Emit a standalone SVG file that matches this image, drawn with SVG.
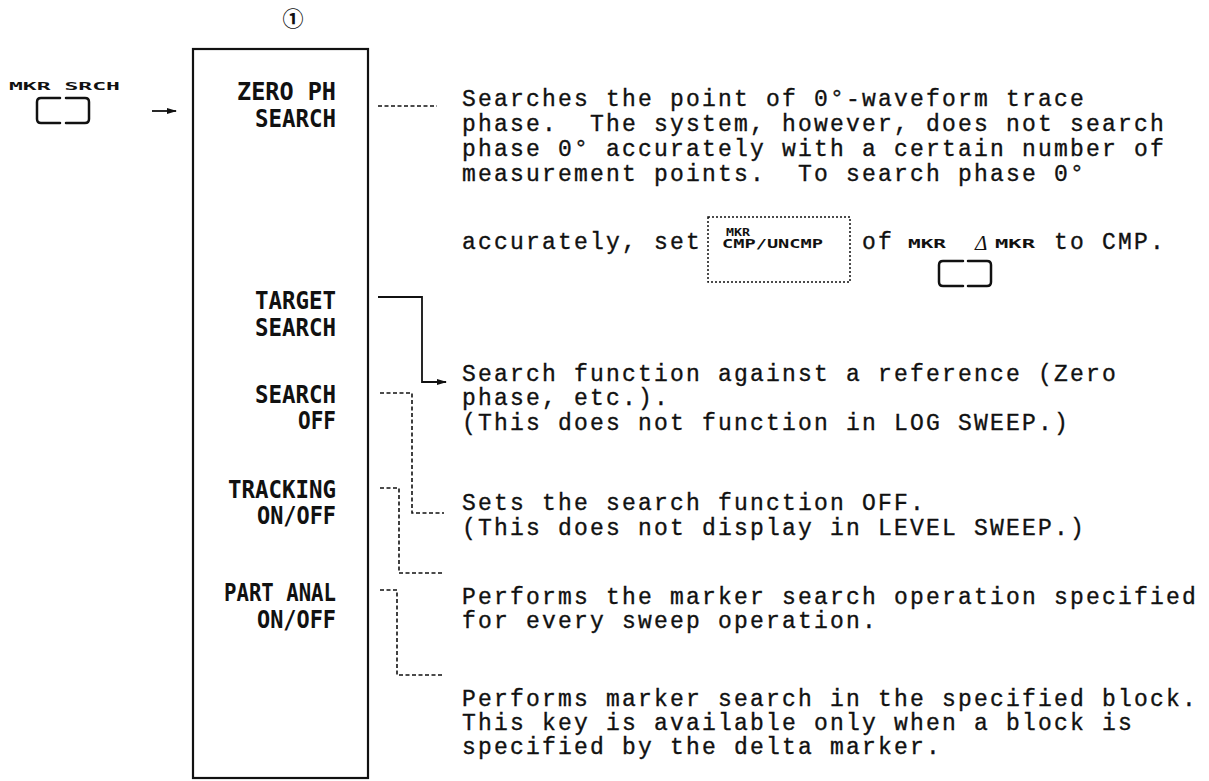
<svg xmlns="http://www.w3.org/2000/svg" width="1209" height="781" viewBox="0 0 1209 781">
<defs>
<style>
.lbl{font-family:"DejaVu Sans Mono","Liberation Mono",monospace;font-weight:bold;font-size:24px;fill:#111}
.txt{font-family:"Liberation Mono","Courier New",monospace;font-size:23px;letter-spacing:2.2px;white-space:pre;fill:#111;stroke:#111;stroke-width:0.35px}
.key{font-family:"DejaVu Sans Mono","Liberation Mono",monospace;font-weight:bold;font-size:11px;fill:#111}
.box{fill:none;stroke:#111;stroke-width:2.2}
.btn{fill:none;stroke:#111;stroke-width:2.5;stroke-linecap:round}
.solid{fill:none;stroke:#111;stroke-width:1.8}
.dash{fill:none;stroke:#111;stroke-width:1.6;stroke-dasharray:4 2.5}
.dot{fill:none;stroke:#111;stroke-width:1.5;stroke-dasharray:2 2}
</style>
<marker id="ah" markerWidth="10" markerHeight="8" refX="9" refY="4" orient="auto" markerUnits="userSpaceOnUse">
<path d="M0,1 L10,4 L0,7 z" fill="#111"/>
</marker>
</defs>
<rect width="1209" height="781" fill="#fff"/>

<g id="key-mkr-srch">
<text class="key" x="9" y="90" textLength="111" lengthAdjust="spacingAndGlyphs">MKR  SRCH</text>
<path class="btn" d="M60,98 H41 Q37,98 37,102 V119 Q37,123 41,123 H60"/>
<path class="btn" d="M66,98 H85 Q89,98 89,102 V119 Q89,123 85,123 H66"/>
</g>

<g id="menu">
<text x="293" y="26" text-anchor="middle" style="font-family:'Noto Sans CJK JP','DejaVu Sans',sans-serif;font-size:21px;font-weight:bold;fill:#111">①</text>
<rect class="box" x="193" y="49" width="175" height="729"/>
<text class="lbl" x="237" y="100" textLength="99" lengthAdjust="spacingAndGlyphs">ZERO PH</text>
<text class="lbl" x="255" y="127" textLength="81" lengthAdjust="spacingAndGlyphs">SEARCH</text>
<text class="lbl" x="255" y="309" textLength="81" lengthAdjust="spacingAndGlyphs">TARGET</text>
<text class="lbl" x="255" y="336" textLength="81" lengthAdjust="spacingAndGlyphs">SEARCH</text>
<text class="lbl" x="255" y="403" textLength="81" lengthAdjust="spacingAndGlyphs">SEARCH</text>
<text class="lbl" x="298" y="429" textLength="38" lengthAdjust="spacingAndGlyphs">OFF</text>
<text class="lbl" x="228" y="498" textLength="108" lengthAdjust="spacingAndGlyphs">TRACKING</text>
<text class="lbl" x="257" y="524" textLength="79" lengthAdjust="spacingAndGlyphs">ON/OFF</text>
<text class="lbl" x="224" y="601" textLength="112" lengthAdjust="spacingAndGlyphs">PART ANAL</text>
<text class="lbl" x="257" y="628" textLength="79" lengthAdjust="spacingAndGlyphs">ON/OFF</text>
</g>

<g id="connectors">
<path class="solid" d="M152,111 H176" marker-end="url(#ah)"/>
<path class="dash" d="M378,106 H437"/>
<path class="solid" d="M378,297 H422 V382 H446" marker-end="url(#ah)"/>
<path class="dash" d="M380,393 H412 V513 H444"/>
<path class="dash" d="M380,488 H399 V573 H443"/>
<path class="dash" d="M380,590 H397 V675 H443"/>
</g>

<g id="desc-zero-ph">
<text class="txt" x="462" y="106">Searches the point of 0°-waveform trace</text>
<text class="txt" x="462" y="131">phase.  The system, however, does not search</text>
<text class="txt" x="462" y="156">phase 0° accurately with a certain number of</text>
<text class="txt" x="462" y="181">measurement points.  To search phase 0°</text>
<text class="txt" x="462" y="249">accurately, set</text>
<rect class="dot" x="708" y="217" width="142" height="65"/>
<text class="key" x="726" y="236" textLength="24" lengthAdjust="spacingAndGlyphs" style="font-size:10px">MKR</text>
<text class="key" x="722" y="248" textLength="101" lengthAdjust="spacingAndGlyphs" style="font-size:12px">CMP/UNCMP</text>
<text class="txt" x="862" y="249">of</text>
<text class="key" x="908" y="248" textLength="38" lengthAdjust="spacingAndGlyphs" style="font-size:12px">MKR</text>
<text x="975" y="250" style="font-family:'Liberation Serif',serif;font-style:italic;font-size:21px;fill:#111">Δ</text>
<text class="key" x="995" y="248" textLength="40" lengthAdjust="spacingAndGlyphs" style="font-size:12px">MKR</text>
<text class="txt" x="1054" y="249">to CMP.</text>
<path class="btn" d="M963,261 H943 Q939,261 939,265 V282 Q939,286 943,286 H963"/>
<path class="btn" d="M968,261 H987 Q991,261 991,265 V282 Q991,286 987,286 H968"/>
</g>

<g id="desc-target">
<text class="txt" x="462" y="381">Search function against a reference (Zero</text>
<text class="txt" x="462" y="405">phase, etc.).</text>
<text class="txt" x="462" y="430">(This does not function in LOG SWEEP.)</text>
</g>

<g id="desc-search-off">
<text class="txt" x="462" y="510">Sets the search function OFF.</text>
<text class="txt" x="462" y="535">(This does not display in LEVEL SWEEP.)</text>
</g>

<g id="desc-tracking">
<text class="txt" x="462" y="604">Performs the marker search operation specified</text>
<text class="txt" x="462" y="628">for every sweep operation.</text>
</g>

<g id="desc-part-anal">
<text class="txt" x="462" y="706">Performs marker search in the specified block.</text>
<text class="txt" x="462" y="730">This key is available only when a block is</text>
<text class="txt" x="462" y="754">specified by the delta marker.</text>
</g>
</svg>
